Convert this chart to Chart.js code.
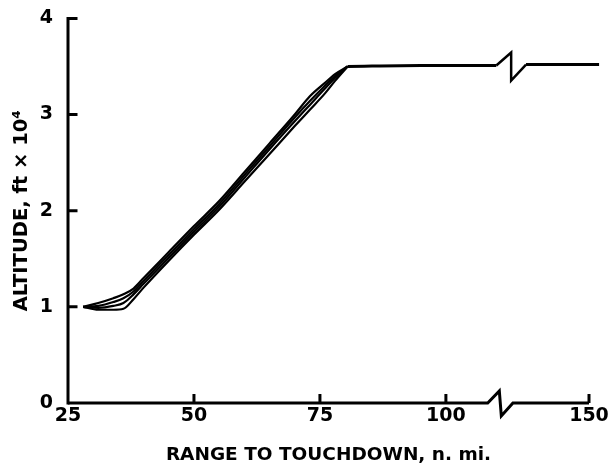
<!DOCTYPE html>
<html>
<head>
    <title>Altitude vs Range to Touchdown</title>
    <script src="https://cdn.jsdelivr.net/npm/chart.js"></script>
    <style>
        body { margin: 0; background: #fff; }
    </style>
</head>
<body>
    <canvas id="altChart" width="616" height="466"></canvas>

    <script>
        // range to touchdown (n. mi.) shared by the band of trajectories
        const rangeBand = [28, 31, 34, 36, 38, 40, 45, 50, 55, 60, 65, 70, 73, 76, 78, 80.5];
        // altitude, ft x 10^4, one array per trajectory
        const altUpper    = [1.00, 1.04, 1.09, 1.13, 1.19, 1.30, 1.57, 1.84, 2.10, 2.40, 2.70, 3.00, 3.19, 3.33, 3.42, 3.50];
        const altMidUpper = [1.00, 1.01, 1.05, 1.09, 1.16, 1.27, 1.54, 1.81, 2.07, 2.37, 2.67, 2.97, 3.14, 3.30, 3.40, 3.50];
        const altMidLower = [1.00, 0.99, 1.01, 1.04, 1.13, 1.24, 1.51, 1.78, 2.04, 2.34, 2.64, 2.93, 3.10, 3.27, 3.38, 3.50];
        const altLower    = [1.00, 0.97, 0.97, 0.98, 1.08, 1.20, 1.48, 1.75, 2.01, 2.30, 2.59, 2.88, 3.05, 3.22, 3.35, 3.50];

        // cruise segment, split by the axis break
        const flatRangeNear = [80.5, 95, 110];
        const flatAltNear = [3.50, 3.51, 3.51];
        const flatRangeFar = [137.5, 152];
        const flatAltFar = [3.52, 3.52];

        const rangeTicks = [25, 50, 75, 100, 150];
        const altTicks = [0, 1, 2, 3, 4];

        // broken x axis: everything past the break is shifted left
        const BREAK_FROM = 112;
        const BREAK_SHIFT = 21.6;
        const AXIS_BREAK = [108.3, 113.3];
        function toAxis(r) { return r > BREAK_FROM ? r - BREAK_SHIFT : r; }

        function pts(xs, ys) {
            return xs.map((x, i) => ({ x: toAxis(x), y: ys[i] }));
        }

        const FONT = 'DejaVu Sans';

        function lineSet(xs, ys, w) {
            return {
                data: pts(xs, ys),
                borderColor: '#000',
                borderWidth: w,
                pointRadius: 0,
                cubicInterpolationMode: 'monotone',
                fill: false,
                clip: false
            };
        }

        // hand drawn axes with inward ticks and break marks
        const axesPlugin = {
            id: 'axesPlugin',
            afterDraw(chart) {
                const ctx = chart.ctx;
                const xs = chart.scales.x, ys = chart.scales.y;
                const a = chart.chartArea;
                ctx.save();
                ctx.strokeStyle = '#000';
                ctx.lineCap = 'square';
                ctx.lineWidth = 3;

                // y axis + ticks
                ctx.beginPath();
                ctx.moveTo(a.left, a.bottom);
                ctx.lineTo(a.left, a.top);
                altTicks.forEach(v => {
                    if (v === 0) return;
                    const py = ys.getPixelForValue(v);
                    ctx.moveTo(a.left, py);
                    ctx.lineTo(a.left + 8, py);
                });
                ctx.stroke();

                // x axis with zigzag
                const b0 = xs.getPixelForValue(AXIS_BREAK[0]);
                const b1 = xs.getPixelForValue(AXIS_BREAK[1]);
                const bm = (b0 + b1) / 2;
                ctx.lineCap = 'butt';
                ctx.lineJoin = 'miter';
                ctx.beginPath();
                ctx.moveTo(a.left, a.bottom);
                ctx.lineTo(b0, a.bottom);
                ctx.lineTo(bm - 1, a.bottom - 12);
                ctx.lineTo(bm + 1, a.bottom + 13);
                ctx.lineTo(b1, a.bottom);
                ctx.lineTo(a.right, a.bottom);
                rangeTicks.forEach(r => {
                    if (r === 25) return;
                    const px = xs.getPixelForValue(toAxis(r));
                    ctx.moveTo(px, a.bottom);
                    ctx.lineTo(px, a.bottom - 9);
                });
                ctx.stroke();

                // zigzag in the cruise line
                const p0x = xs.getPixelForValue(toAxis(flatRangeNear[flatRangeNear.length - 1]));
                const p0y = ys.getPixelForValue(flatAltNear[flatAltNear.length - 1]);
                const p1x = xs.getPixelForValue(toAxis(flatRangeFar[0]));
                const p1y = ys.getPixelForValue(flatAltFar[0]);
                const pm = (p0x + p1x) / 2;
                ctx.lineWidth = 2.5;
                ctx.beginPath();
                ctx.moveTo(p0x, p0y);
                ctx.lineTo(pm, p0y - 13);
                ctx.lineTo(pm, p0y + 15);
                ctx.lineTo(p1x, p1y);
                ctx.stroke();
                ctx.restore();
            }
        };

        const ctx = document.getElementById('altChart').getContext('2d');
        new Chart(ctx, {
            type: 'line',
            data: {
                datasets: [
                    lineSet(rangeBand, altUpper, 2.2),
                    lineSet(rangeBand, altMidUpper, 2.2),
                    lineSet(rangeBand, altMidLower, 2.2),
                    lineSet(rangeBand, altLower, 2.2),
                    lineSet(flatRangeNear, flatAltNear, 3),
                    lineSet(flatRangeFar, flatAltFar, 3)
                ]
            },
            options: {
                responsive: false,
                animation: false,
                layout: { padding: { left: 0, right: 27, top: 15, bottom: 0 } },
                plugins: {
                    legend: { display: false },
                    tooltip: { enabled: false }
                },
                scales: {
                    x: {
                        type: 'linear',
                        min: 25,
                        max: toAxis(150),
                        afterBuildTicks: scale => {
                            scale.ticks = rangeTicks.map(r => ({ value: toAxis(r) }));
                        },
                        afterFit: scale => { scale.height = 63; },
                        grid: { display: false },
                        border: { display: false },
                        ticks: {
                            autoSkip: false,
                            maxRotation: 0,
                            padding: -6,
                            color: '#000',
                            font: { family: FONT, size: 19, weight: 'bold' },
                            callback: (v, i) => String(rangeTicks[i])
                        },
                        title: {
                            display: true,
                            text: 'RANGE TO TOUCHDOWN, n. mi.',
                            color: '#000',
                            padding: { top: 2, bottom: 0 },
                            font: { family: FONT, size: 18.5, weight: 'bold' }
                        }
                    },
                    y: {
                        min: 0,
                        max: 4,
                        afterBuildTicks: scale => {
                            scale.ticks = altTicks.map(v => ({ value: v }));
                        },
                        afterFit: scale => { scale.width = 68; },
                        grid: { display: false },
                        border: { display: false },
                        ticks: {
                            padding: 7,
                            color: '#000',
                            font: { family: FONT, size: 19, weight: 'bold' }
                        },
                        title: {
                            display: true,
                            text: 'ALTITUDE, ft × 10⁴',
                            color: '#000',
                            padding: { top: 10, bottom: 0 },
                            font: { family: FONT, size: 19.5, weight: 'bold' }
                        }
                    }
                }
            },
            plugins: [axesPlugin]
        });
    </script>
</body>
</html>
